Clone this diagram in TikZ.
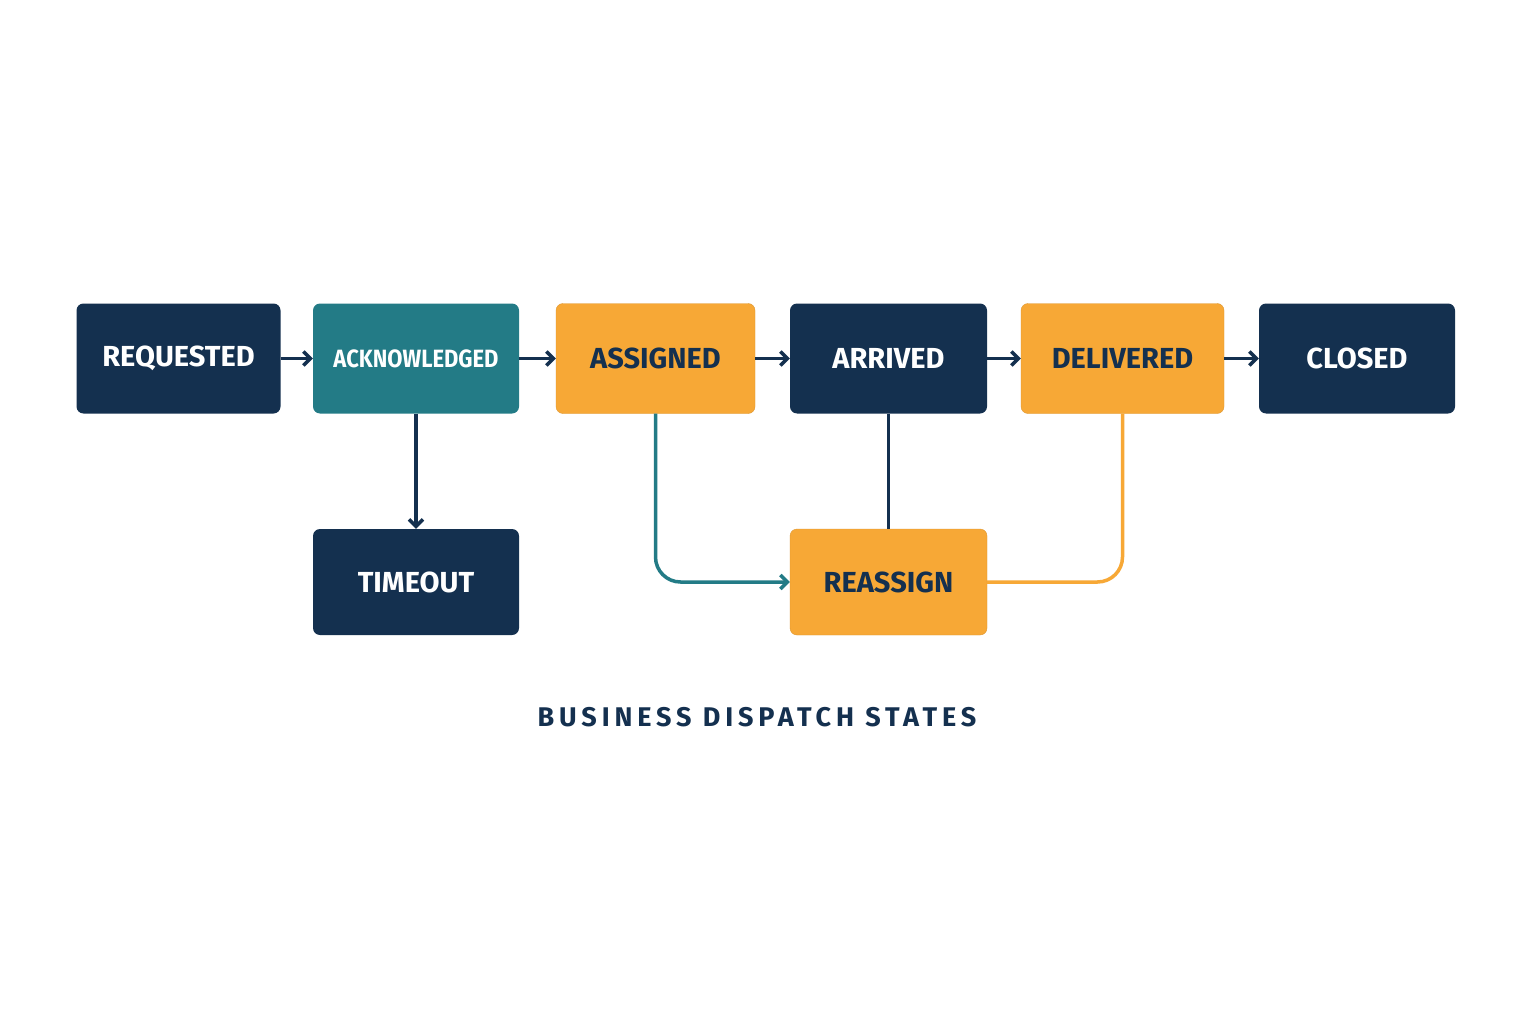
\documentclass[tikz,border=0pt]{standalone}
\usepackage{fontspec}
\setmainfont{Fira Sans}
\usetikzlibrary{arrows.meta}
\definecolor{navy}{HTML}{14304F}
\definecolor{teal}{HTML}{237B86}
\definecolor{orng}{HTML}{F7A836}
\begin{document}
\begin{tikzpicture}[x=1pt,y=-1pt,
 box/.style={rounded corners=7pt,minimum height=110pt,inner sep=0pt,font=\fontsize{29}{30}\selectfont\bfseries},
 dk/.style={box,fill=navy,text=white},
 tl/.style={box,fill=teal,text=white},
 og/.style={box,fill=orng,draw=orng!90!black,text=navy},
 ar/.style={navy,line width=3.5pt,-{Straight Barb[length=7pt,width=14pt]}}]
\useasboundingbox[fill=white] (0,0) rectangle (1536,1024);
\node[dk,minimum width=204pt] (req) at (178.5,358.5) {REQUESTED};
\node[tl,minimum width=206pt] (ack) at (416,358.5) {\fontsize{25}{26}\selectfont\scalebox{0.88}[1]{ACKNOWLEDGED}};
\node[og,minimum width=199pt] (asg) at (655.5,358.5) {ASSIGNED};
\node[dk,minimum width=197pt] (arr) at (888.5,358.5) {ARRIVED};
\node[og,minimum width=203pt] (del) at (1122.5,358.5) {DELIVERED};
\node[dk,minimum width=196pt] (clo) at (1357,358.5) {CLOSED};
\node[dk,minimum width=206pt,minimum height=106pt] (tim) at (416,582) {TIMEOUT};
\node[og,minimum width=197pt,minimum height=106pt] (rea) at (888.5,582) {REASSIGN};
\draw[ar] (req) -- (ack);
\draw[ar] (ack) -- (asg);
\draw[ar] (asg) -- (arr);
\draw[ar] (arr) -- (del);
\draw[ar] (del) -- (clo);
\draw[ar] (ack) -- (tim);
\draw[ar,teal,rounded corners=25pt] (asg.south) |- (rea.west);
\draw[navy,line width=3.5pt] (arr) -- (rea);
\draw[orng,line width=3.5pt,rounded corners=25pt] (del.south) |- (rea.east);
\node[text=navy,font=\fontsize{27}{28}\selectfont\bfseries] (title) at (757,717) {\addfontfeature{LetterSpace=18}BUSINESS DISPATCH STATES};
\end{tikzpicture}
\end{document}
